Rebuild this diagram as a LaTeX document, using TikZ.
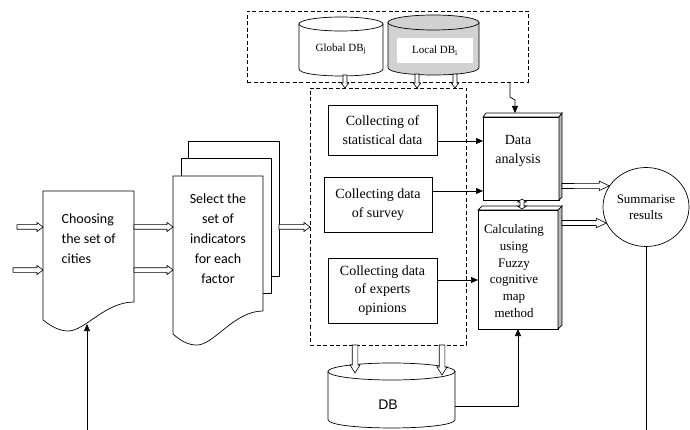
\documentclass[tikz,border=0pt]{standalone}
\usepackage{fontspec}
\setmainfont{Liberation Serif}
\newfontfamily\calib{Carlito}
\newfontfamily\arialf{Liberation Sans}
\usetikzlibrary{calc,arrows.meta,shapes.geometric}

\begin{document}
\begin{tikzpicture}[x=1pt,y=-1pt, line width=0.7pt,
  ghost/.style={rectangle, inner sep=0pt, outer sep=0pt},
  box/.style={draw, rectangle, inner sep=0pt, outer sep=0pt, fill=white, align=center, font=\fontsize{14}{18.5}\selectfont},
  dbox/.style={draw, rectangle, inner sep=0pt, outer sep=0pt, dash pattern=on 4pt off 2.5pt, line width=0.8pt},
  conn/.style={-{Triangle[length=7pt,width=6pt]}, line width=0.7pt},
  hollow/.style n args={3}{draw, fill=white, line width=0.6pt, to path={
    ($(\tikztostart)!#1!90:(\tikztotarget)$) --
    ($(\tikztotarget)!#3!(\tikztostart)!#1!90:(\tikztotarget)$) --
    ($(\tikztotarget)!#3!(\tikztostart)!#2!90:(\tikztotarget)$) --
    (\tikztotarget) --
    ($(\tikztotarget)!#3!(\tikztostart)!#2!-90:(\tikztotarget)$) --
    ($(\tikztotarget)!#3!(\tikztostart)!#1!-90:(\tikztotarget)$) --
    ($(\tikztostart)!#1!-90:(\tikztotarget)$) -- cycle}},
  hollowboth/.style n args={3}{draw, fill=white, line width=0.6pt, to path={
    (\tikztostart) --
    ($(\tikztostart)!#3!(\tikztotarget)!#2!90:(\tikztotarget)$) --
    ($(\tikztostart)!#3!(\tikztotarget)!#1!90:(\tikztotarget)$) --
    ($(\tikztotarget)!#3!(\tikztostart)!#1!90:(\tikztotarget)$) --
    ($(\tikztotarget)!#3!(\tikztostart)!#2!90:(\tikztotarget)$) --
    (\tikztotarget) --
    ($(\tikztotarget)!#3!(\tikztostart)!#2!-90:(\tikztotarget)$) --
    ($(\tikztotarget)!#3!(\tikztostart)!#1!-90:(\tikztotarget)$) --
    ($(\tikztostart)!#3!(\tikztotarget)!#1!-90:(\tikztotarget)$) --
    ($(\tikztostart)!#3!(\tikztotarget)!#2!-90:(\tikztotarget)$) -- cycle}}
]
\useasboundingbox (0,0) rectangle (690,430);
\fill[white] (0,0) rectangle (690,430);

% ---------- top dashed region with databases ----------
\node[dbox, minimum width=281pt, minimum height=71pt] (topbox) at (387.5,46.5) {};

\node[ghost, minimum width=84pt, minimum height=59pt] (gdb) at (341,46.5) {};
\draw[fill=white] ($(gdb.north west)+(0,7)$) -- ($(gdb.south west)+(0,-7)$)
  .. controls +(0,9.3) and +(0,9.3) .. ($(gdb.south east)+(0,-7)$) -- ($(gdb.north east)+(0,7)$) -- cycle;
\draw[fill=white] ($(gdb.north)+(0,7)$) ellipse [x radius=42, y radius=7];
\node[font=\fontsize{11}{13}\selectfont] (gdbtxt) at (341,49) {Global DB\textsubscript{j}};

\node[ghost, minimum width=91pt, minimum height=60pt] (ldb) at (433.5,45) {};
\draw[fill=gray!35] ($(ldb.north west)+(0,7.5)$) -- ($(ldb.south west)+(0,-7.5)$)
  .. controls +(0,10) and +(0,10) .. ($(ldb.south east)+(0,-7.5)$) -- ($(ldb.north east)+(0,7.5)$) -- cycle;
\draw[fill=gray!35] ($(ldb.north)+(0,7.5)$) ellipse [x radius=45.5, y radius=7.5];
\node[fill=white, minimum width=76pt, minimum height=25pt, inner sep=0pt, font=\fontsize{11}{13}\selectfont] (ldbtxt) at (435,50.5) {Local DB\textsubscript{i}};

% ---------- inner dashed region ----------
\node[dbox, minimum width=156pt, minimum height=257pt] (inner) at (388,216.5) {};
\node[box, minimum width=109pt, minimum height=50pt] (c1) at (382.5,130) {Collecting of\\statistical data};
\node[box, minimum width=108pt, minimum height=55pt] (c2) at (378,204.5) {Collecting data\\of survey};
\node[box, minimum width=109pt, minimum height=65pt] (c3) at (382.5,290.5) {Collecting data\\of experts\\opinions};

% ---------- Choosing (document) ----------
\node[ghost, minimum width=91pt, minimum height=111pt] (choose) at (88.5,246.5) {};
\draw[fill=white] (choose.south east) -- (choose.north east) -- (choose.north west) -- ($(choose.south west)+(0,18)$)
  .. controls +(9,7) and +(-8,0) .. ($(choose.south west)+(25,29)$)
  .. controls +(17,0) and +(-29,0) .. (choose.south east);
\node[anchor=west, align=left, font=\calib\fontsize{14}{20}\selectfont] (choosetxt) at (58,239) {Choosing\\the set of\\cities};

% ---------- Select (multi-document) ----------
\node[ghost, draw, fill=white, minimum width=91pt, minimum height=135pt] (selback) at (233.5,208.5) {};
\node[ghost, draw, fill=white, minimum width=90pt, minimum height=135pt] (selmid) at (226,225.5) {};
\node[ghost, minimum width=90pt, minimum height=135pt] (sel) at (218,243.5) {};
\draw[fill=white] (sel.south east) -- (sel.north east) -- (sel.north west) -- ($(sel.south west)+(0,23)$)
  .. controls +(9,8) and +(-8,0) .. ($(sel.south west)+(24,34)$)
  .. controls +(17,0) and +(-29,0) .. (sel.south east);
\node[align=center, font=\calib\fontsize{14}{20}\selectfont] (seltxt) at (218,238.5) {Select the\\set of\\indicators\\for each\\factor};

% ---------- Data analysis (3D) ----------
\node[box, minimum width=76pt, minimum height=83pt] (da) at (521,158.5) {};
\draw[fill=white] (da.north west) -- ++(3,-4) -- ($(da.north east)+(3,-4)$) -- (da.north east) -- cycle;
\draw[fill=gray!55] (da.north east) -- ++(3,-4) -- ($(da.south east)+(3,-3)$) -- (da.south east) -- cycle;
\node[align=center, font=\fontsize{14}{19}\selectfont] (datxt) at (518,151) {Data\\analysis};

% ---------- Calculating (3D) ----------
\node[box, minimum width=80pt, minimum height=119pt] (calc) at (518,269.5) {};
\draw[fill=white] (calc.north west) -- ++(4,-4) -- ($(calc.north east)+(4,-4)$) -- (calc.north east) -- cycle;
\draw[fill=gray!55] (calc.north east) -- ++(4,-4) -- ($(calc.south east)+(4,-4)$) -- (calc.south east) -- cycle;
\node[align=center, font=\fontsize{13}{16.8}\selectfont] (calctxt) at (514,271) {Calculating\\using\\Fuzzy\\cognitive\\map\\method};

% ---------- Summarise ----------
\node[draw, ellipse, minimum width=86pt, minimum height=79pt, inner sep=0pt, align=center, font=\fontsize{13}{16}\selectfont] (sum) at (646,207) {Summarise\\results};

% ---------- DB ----------
\node[ghost, minimum width=127pt, minimum height=65pt] (db) at (391.5,395.5) {};
\draw[fill=white] ($(db.north west)+(0,8.5)$) -- ($(db.south west)+(0,-8.5)$)
  .. controls +(0,11.3) and +(0,11.3) .. ($(db.south east)+(0,-8.5)$) -- ($(db.north east)+(0,8.5)$) -- cycle;
\draw[fill=white] ($(db.north)+(0,8.5)$) ellipse [x radius=63.5, y radius=8.5];
\node[font=\arialf\fontsize{14}{16}\selectfont] (dbtxt) at (388,405) {DB};

% ---------- coordinates for connectors ----------
\coordinate (in1) at (17,227);
\coordinate (in2) at (13,270);
\coordinate (in1e) at (choose.west |- in1);
\coordinate (in2e) at (choose.west |- in2);
\coordinate (o1s) at (choose.east |- in1);
\coordinate (o1e) at (sel.west |- in1);
\coordinate (o2s) at (choose.east |- in2);
\coordinate (o2e) at (sel.west |- in2);
\coordinate (s1s) at (selback.east |- in1);
\coordinate (s1e) at (inner.west |- in1);
\coordinate (g1s) at (345,75);
\coordinate (g1e) at (g1s |- inner.north);
\coordinate (l1s) at (417,74);
\coordinate (l1e) at (l1s |- inner.north);
\coordinate (l2s) at (455,74);
\coordinate (l2e) at (l2s |- inner.north);
\coordinate (d1e) at (355,373);
\coordinate (d1s) at (d1e |- inner.south);
\coordinate (d2e) at (442,375);
\coordinate (d2s) at (d2e |- inner.south);
\coordinate (h1s) at ($(da.east)+(3,27.5)$);
\coordinate (h1e) at (sum.150);
\coordinate (h2s) at ($(calc.east)+(4,-46.5)$);
\coordinate (h2e) at (sum.202);
\coordinate (dd1) at ($(da.south)+(1,-1)$);
\coordinate (dd2) at ($(calc.north)+(4,-1)$);
\coordinate (chin) at (87,430);
\coordinate (sumend) at (646,430);

% ---------- hollow arrows ----------
\path[hollow={2.3pt}{4.5pt}{6pt}] (in1) to (in1e);
\path[hollow={2.3pt}{4.5pt}{6pt}] (in2) to (in2e);
\path[hollow={2.3pt}{4.5pt}{6pt}] (o1s) to (o1e);
\path[hollow={2.3pt}{4.5pt}{6pt}] (o2s) to (o2e);
\path[hollow={2.3pt}{4.5pt}{6pt}] (s1s) to (s1e);
\path[hollow={2pt}{3.8pt}{5pt}] (g1s) to (g1e);
\path[hollow={2pt}{3.8pt}{5pt}] (l1s) to (l1e);
\path[hollow={2pt}{3.8pt}{5pt}] (l2s) to (l2e);
\path[hollow={2.8pt}{5pt}{8pt}] (d1s) to (d1e);
\path[hollow={2.8pt}{5pt}{8pt}] (d2s) to (d2e);
\path[hollow={2.5pt}{4.7pt}{10pt}] (h1s) to (h1e);
\path[hollow={2.5pt}{4.7pt}{10pt}] (h2s) to (h2e);
\path[hollowboth={2pt}{4.5pt}{3pt}] (dd1) to (dd2);

% ---------- solid connectors ----------
\draw[conn] ($(c1.east)+(0,11)$) -- ($(da.west)+(0,-17.5)$);
\draw[conn] ($(c2.east)+(0,-13.5)$) -- ($(da.west)+(0,32.5)$);
\draw[conn] ($(c3.east)+(0,-10.5)$) -- ($(calc.west)+(0,10.5)$);
\draw[conn] ($(db.east)+(0,10.5)$) -| (calc.south);
\draw[conn] ($(topbox.south east)+(-18,0)$) -- ++(0,15) -- ++(5,3) -- ($(da.north)+(-6,-4)$);
\draw[conn] (chin) -- ($(choose.south west)+(44,22)$);
\draw (sum.south) -- (sumend);
\end{tikzpicture}
\end{document}
